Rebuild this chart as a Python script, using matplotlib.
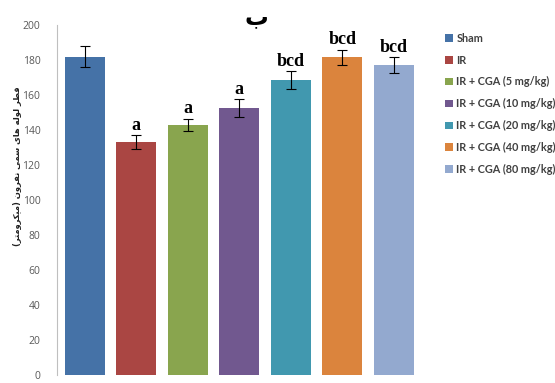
import numpy as np
import matplotlib.pyplot as plt

# groups, mean values, error bars and significance letters
groups = ['Sham', 'IR', 'IR + CGA (5 mg/kg)', 'IR + CGA (10 mg/kg)',
          'IR + CGA (20 mg/kg)', 'IR + CGA (40 mg/kg)', 'IR + CGA (80 mg/kg)']
means = [182, 133, 143, 152.5, 168.5, 181.5, 177]
errors = [6, 4, 3.5, 5, 5, 4.5, 4.5]
letters = ['', 'a', 'a', 'a', 'bcd', 'bcd', 'bcd']
colors = ['#4572A7', '#AA4643', '#89A54E', '#71588F', '#4198AF', '#DB843D', '#93A9CF']
yticks = [0, 20, 40, 60, 80, 100, 120, 140, 160, 180, 200]

# y label, written with presentation forms (no shaping in matplotlib)
ylabel_forms = ('\uFED7\uFEC4\uFEAE \uFEDF\uFEEE\uFEDF\uFEEA \uFEEB\uFE8E\uFBFC '
                '\uFEB3\uFEE4\uFBFD \uFEE7\uFED4\uFEAE\uFEED\uFEE5 '
                '(\uFEE3\uFBFF\uFB91\uFEAE\uFEED\uFEE3\uFE98\uFEAE)')
title = '\u0628'


def visual(s):
    # right-to-left -> left-to-right order, mirror the brackets
    s = s[::-1]
    return s.translate(str.maketrans('()', ')('))


fig = plt.figure(figsize=(5.55, 3.83), dpi=100)
ax = fig.add_axes([0.1027, 0.0209, 0.657, 0.9138])

x = np.arange(len(groups))
for i in range(len(groups)):
    ax.bar(x[i], means[i], width=0.78, color=colors[i], label=groups[i], zorder=2)
ax.errorbar(x, means, yerr=errors, fmt='none', ecolor='black', elinewidth=0.8,
            capsize=3.5, capthick=0.8, zorder=3)

for i in range(len(groups)):
    if letters[i]:
        ax.text(x[i], means[i] + errors[i] + 1, letters[i], ha='center', va='bottom',
                fontsize=13, fontweight='bold', family='Liberation Serif')

ax.set_xlim(-0.54, len(groups) - 0.46)
ax.set_ylim(0, 200)
ax.set_yticks(yticks)
ax.set_xticks([])
for s in ['top', 'right', 'bottom']:
    ax.spines[s].set_visible(False)
ax.spines['left'].set_color('#BFBFBF')
ax.tick_params(axis='y', length=0, pad=12, labelsize=7.5, labelcolor='#595959')
for lb in ax.get_yticklabels():
    lb.set_family('Open Sans')

fig.text(0.032, 0.567, visual(ylabel_forms), rotation=90, ha='center', va='center',
         fontsize=6, fontweight='bold', family='DejaVu Sans', color='#202020')
fig.text(0.462, 0.937, title, ha='center', va='baseline', fontsize=17,
         fontweight='bold', family='DejaVu Sans')

leg = fig.legend(loc='upper left', bbox_to_anchor=(0.785, 0.94), frameon=False,
                 handlelength=0.7, handleheight=0.7, handletextpad=0.3,
                 labelspacing=1.0, prop={'family': 'Lato', 'weight': 'bold', 'size': 7.8})
for t in leg.get_texts():
    t.set_color('#404040')

fig.savefig('out.png', dpi=100)
